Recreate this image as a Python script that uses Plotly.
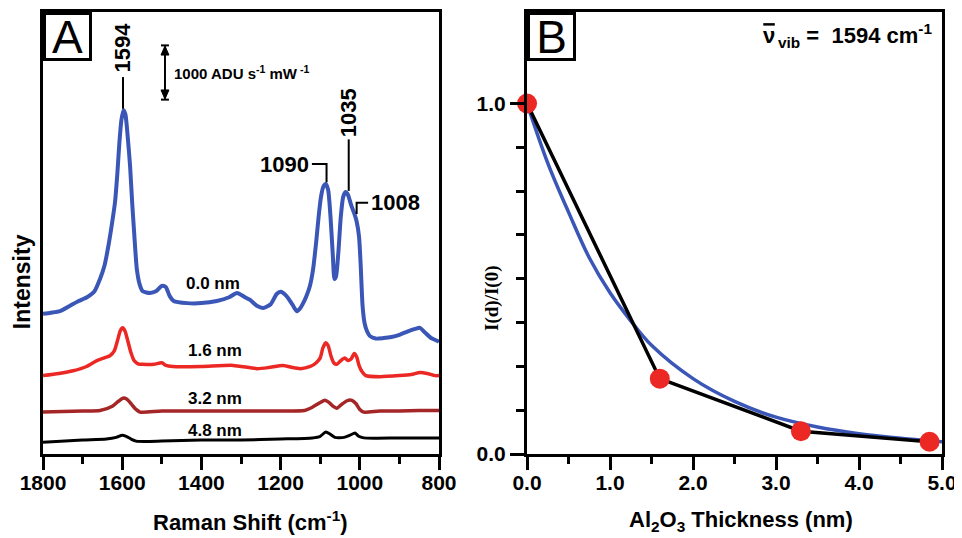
import plotly.graph_objects as go

# ---------------- Panel A data (Raman shift, cm-1 ; intensity, ADU s-1 mW-1, offset) ----------------
wn_00 = [1800, 1780, 1757, 1732, 1710, 1689, 1670, 1656, 1645, 1635, 1625, 1618, 1612, 1607, 1602,
         1597, 1592, 1586, 1580, 1575, 1570, 1563, 1556, 1548, 1530, 1515, 1500, 1490, 1480, 1470,
         1436, 1400, 1361, 1330, 1310, 1290, 1277, 1260, 1244, 1225, 1210, 1200, 1185, 1170, 1159,
         1150, 1143, 1135, 1126, 1118, 1110, 1104, 1098, 1092, 1086, 1080, 1074, 1068, 1064, 1060,
         1054, 1048, 1042, 1036, 1030, 1022, 1014, 1008, 1002, 998, 993, 988, 982, 975, 960, 940,
         920, 900, 880, 860, 848, 835, 820, 805, 800]
int_00 = [2610, 2630, 2660, 2760, 2850, 2920, 3030, 3260, 3500, 3870, 4330, 4700, 5250, 5810, 6220,
          6400, 6330, 5900, 5350, 4700, 4140, 3440, 3160, 3030, 3000, 3030, 3130, 3110, 2940, 2850,
          2810, 2810, 2850, 2920, 3000, 2920, 2870, 2760, 2720, 2790, 2980, 3020, 2940, 2780, 2660,
          2720, 2810, 2940, 3130, 3440, 3960, 4420, 4790, 4980, 5030, 4920, 4420, 3680, 3260, 3310,
          3770, 4420, 4790, 4880, 4830, 4640, 4480, 4330, 4050, 3550, 2760, 2440, 2290, 2200, 2150, 2160,
          2180, 2220, 2280, 2330, 2350, 2260, 2160, 2110, 2090]

wn_16 = [1800, 1760, 1724, 1690, 1664, 1645, 1631, 1620, 1612, 1605, 1599, 1593, 1586, 1578, 1570,
         1560, 1548, 1520, 1500, 1490, 1472, 1400, 1320, 1260, 1230, 1194, 1170, 1150, 1125, 1110,
         1100, 1093, 1086, 1080, 1073, 1066, 1058, 1048, 1038, 1030, 1022, 1014, 1008, 1002, 995,
         985, 950, 900, 870, 848, 830, 810, 800]
int_16 = [1460, 1500, 1550, 1630, 1740, 1790, 1830, 1920, 2110, 2290, 2350, 2290, 2110, 1890, 1740,
          1680, 1670, 1670, 1700, 1650, 1630, 1630, 1650, 1590, 1610, 1650, 1610, 1590, 1630, 1700,
          1790, 1980, 2070, 2020, 1830, 1700, 1670, 1740, 1790, 1740, 1770, 1870, 1810, 1650, 1540,
          1460, 1440, 1460, 1480, 1520, 1500, 1460, 1460]

wn_32 = [1800, 1700, 1656, 1625, 1610, 1598, 1588, 1578, 1565, 1555, 1500, 1400, 1300, 1200, 1140,
         1120, 1100, 1088, 1078, 1068, 1058, 1045, 1030, 1020, 1010, 1000, 990, 950, 900, 850, 800]
int_32 = [780, 800, 810, 890, 980, 1040, 1020, 940, 830, 780, 800, 800, 800, 800, 810,
          870, 960, 1000, 960, 890, 850, 930, 1000, 1000, 940, 830, 780, 800, 800, 810, 810]

wn_48 = [1800, 1700, 1640, 1615, 1600, 1590, 1578, 1565, 1500, 1400, 1300, 1200, 1120, 1100, 1086,
         1075, 1063, 1040, 1025, 1012, 1003, 990, 900, 800]
int_48 = [220, 260, 280, 310, 350, 330, 280, 240, 240, 260, 260, 280, 300, 330, 410,
          370, 310, 310, 350, 390, 330, 300, 300, 300]

spectra_labels = ["0.0 nm", "1.6 nm", "3.2 nm", "4.8 nm"]
label_wn = [1371, 1366, 1366, 1366]
label_int = [3180, 1920, 1040, 440]

xticks_a = [1800, 1600, 1400, 1200, 1000, 800]
xminor_a = [1700, 1500, 1300, 1100, 900]

# ---------------- Panel B data ----------------
thick = [0.0, 1.6, 3.3, 4.85]
ratio = [1.0, 0.215, 0.065, 0.035]
fit_x = [0.0, 0.25, 0.5, 0.75, 1.0, 1.25, 1.5, 2.0, 2.5, 3.0, 3.5, 4.0, 4.5, 5.0]
fit_y = [1.0, 0.83, 0.69, 0.56, 0.46, 0.38, 0.31, 0.215, 0.15, 0.105, 0.077, 0.058, 0.045, 0.035]

xticks_b = [0, 1, 2, 3, 4, 5]
xticktext_b = ["0.0", "1.0", "2.0", "3.0", "4.0", "5.0"]
xminor_b = [0.5, 1.5, 2.5, 3.5, 4.5]
yticks_b = [0.0, 1.0]
yticktext_b = ["0.0", "1.0"]
yminor_b = [0.125, 0.25, 0.375, 0.5, 0.625, 0.75, 0.875]

BLUE = "rgb(58,86,182)"
RED = "rgb(236,40,36)"
DRED = "rgb(165,38,38)"
FONT = "Liberation Sans, Arial, sans-serif"

fig = go.Figure()
for wn, it, col, w in [(wn_00, int_00, BLUE, 4), (wn_16, int_16, RED, 3.5),
                       (wn_32, int_32, DRED, 3.5), (wn_48, int_48, "black", 3)]:
    fig.add_trace(go.Scatter(x=wn, y=it, mode="lines", line=dict(color=col, width=w, shape="spline", smoothing=0.6),
                             xaxis="x", yaxis="y", showlegend=False, hoverinfo="skip"))

fig.add_trace(go.Scatter(x=fit_x, y=fit_y, mode="lines", line=dict(color=BLUE, width=3.5, shape="spline"),
                         xaxis="x2", yaxis="y2", showlegend=False))
fig.add_trace(go.Scatter(x=thick, y=ratio, mode="lines", line=dict(color="black", width=3.5),
                         xaxis="x2", yaxis="y2", showlegend=False))
fig.add_trace(go.Scatter(x=thick, y=ratio, mode="markers", marker=dict(color=RED, size=20),
                         xaxis="x2", yaxis="y2", showlegend=False, cliponaxis=False))

ax_common = dict(showline=True, linewidth=3, linecolor="black", mirror=True, showgrid=False, zeroline=False,
                 tickfont=dict(family=FONT, size=21, color="black", weight="bold"))

fig.update_layout(
    width=954, height=530,
    margin=dict(l=35, r=20, t=1, b=84),
    paper_bgcolor="white", plot_bgcolor="white",
    xaxis=dict(domain=[0, 0.4405], range=[1800, 800], tickvals=xticks_a, ticks="outside", ticklen=13,
               tickwidth=3, tickcolor="black", ticklabelstandoff=-5,
               minor=dict(tickvals=xminor_a, ticks="outside", ticklen=7, tickwidth=3, tickcolor="black"),
               **ax_common),
    yaxis=dict(domain=[0, 1], range=[0, 8232], showticklabels=False, ticks="", **ax_common),
    xaxis2=dict(domain=[0.5384, 1], range=[0, 5], tickvals=xticks_b, ticktext=xticktext_b, ticks="outside",
                ticklen=13, tickwidth=3, tickcolor="black", anchor="y2", ticklabelstandoff=-5,
                minor=dict(tickvals=xminor_b, ticks="outside", ticklen=7, tickwidth=3, tickcolor="black"),
                **ax_common),
    yaxis2=dict(domain=[0, 1], range=[0, 1.261], tickvals=yticks_b, ticktext=yticktext_b, ticks="outside",
                ticklen=14, tickwidth=3, tickcolor="black", anchor="x2",
                minor=dict(tickvals=yminor_b, ticks="outside", ticklen=8, tickwidth=3, tickcolor="black"),
                **ax_common),
)

ann = []
bold = lambda s: dict(family=FONT, size=s, color="black")
# spectrum labels
for t, x, y in zip(spectra_labels, label_wn, label_int):
    ann.append(dict(x=x, y=y, xref="x", yref="y", text="<b>%s</b>" % t, showarrow=False, font=bold(17),
                    xanchor="center", yanchor="middle"))
# peak labels
ann.append(dict(x=1598, y=7570, xref="x", yref="y", text="<b>1594</b>", textangle=-90, showarrow=False,
                font=bold(22), xanchor="center", yanchor="middle"))
ann.append(dict(x=1028, y=6360, xref="x", yref="y", text="<b>1035</b>", textangle=-90, showarrow=False,
                font=bold(22), xanchor="center", yanchor="middle"))
ann.append(dict(x=1123, y=5400, xref="x", yref="y", text="<b>1090</b>", xanchor="right", yanchor="middle",
                showarrow=False, font=bold(22)))
ann.append(dict(x=976, y=4680, xref="x", yref="y", text="<b>1008</b>", xanchor="left", yanchor="middle",
                showarrow=False, font=bold(22)))
# scale bar text
ann.append(dict(x=1475, y=7110, xref="x", yref="y", text="<b>1000 ADU s<sup>-1</sup> mW<sup> -1</sup></b>",
                xanchor="left", yanchor="middle", showarrow=False, font=bold(15)))
# axis titles
ann.append(dict(x=1277, y=-0.1506, xref="x", yref="paper", text="<b>Raman Shift (cm<sup>-1</sup>)</b>",
                showarrow=False, font=bold(22), xanchor="center", yanchor="middle"))
ann.append(dict(x=-0.0234, y=0.391, xref="paper", yref="paper", text="<b>Intensity</b>", textangle=-90,
                showarrow=False, font=bold(23), xanchor="center", yanchor="middle"))
ann.append(dict(x=2.58, y=-0.1506, xref="x2", yref="paper", text="<b>Al<sub>2</sub>O<sub>3</sub> Thickness (nm)</b>",
                showarrow=False, font=bold(22), xanchor="center", yanchor="middle"))
ann.append(dict(x=0.4994, y=0.353, xref="paper", yref="paper", text="<b>I(d)/I(0)</b>", textangle=-90,
                showarrow=False, xanchor="center", yanchor="middle",
                font=dict(family="Liberation Serif, Times New Roman, serif", size=19, color="black")))
# panel B title: nu-bar (bar drawn as a short line above the nu)
ann.append(dict(x=0.8076, y=0.946, xref="paper", yref="paper", xanchor="center", yanchor="middle",
                text="<b>ν</b>", showarrow=False, font=bold(22)))
ann.append(dict(x=0.8153, y=0.946, xref="paper", yref="paper", xanchor="left", yanchor="middle",
                text="<b><sub>vib</sub> =  1594 cm<sup>-1</sup></b>", showarrow=False, font=bold(22)))
# panel letters
for letter, xp in [("A", 0.0), ("B", 0.5384)]:
    ann.append(dict(x=xp, y=1.0, xref="paper", yref="paper", xanchor="left", yanchor="top", text=letter,
                    showarrow=False, width=43, height=43, borderpad=0, borderwidth=3, bordercolor="black",
                    bgcolor="white", font=dict(family=FONT, size=46, color="black")))
fig.update_layout(annotations=ann)

shapes = []
L = dict(color="black", width=2)
# stems / brackets
shapes.append(dict(type="line", xref="x", yref="y", x0=1598, x1=1598, y0=7020, y1=6430, line=L))
shapes.append(dict(type="line", xref="x", yref="y", x0=1028, x1=1028, y0=5860, y1=4900, line=L))
shapes.append(dict(type="path", xref="x", yref="y", path="M 1121,5400 L 1084,5400 L 1084,5060", line=L))
shapes.append(dict(type="path", xref="x", yref="y", path="M 1008,4470 L 1008,4680 L 979,4680", line=L))
# scale bar
shapes.append(dict(type="line", xref="x", yref="y", x0=1492, x1=1492, y0=6620, y1=7590, line=L))
shapes.append(dict(type="line", xref="x", yref="y", x0=1502, x1=1482, y0=6600, y1=6600, line=L))
shapes.append(dict(type="line", xref="x", yref="y", x0=1502, x1=1482, y0=7610, y1=7610, line=L))
shapes.append(dict(type="path", xref="x", yref="y", path="M 1492,7600 L 1502,7430 L 1482,7430 Z",
                   fillcolor="black", line=dict(color="black", width=1)))
shapes.append(dict(type="path", xref="x", yref="y", path="M 1492,6610 L 1502,6780 L 1482,6780 Z",
                   fillcolor="black", line=dict(color="black", width=1)))
# macron over nu
shapes.append(dict(type="line", xref="paper", yref="paper", x0=0.8012, x1=0.8140, y0=0.972, y1=0.972,
                   line=dict(color="black", width=2.5)))
fig.update_layout(shapes=shapes)

fig.write_html("out.html")
